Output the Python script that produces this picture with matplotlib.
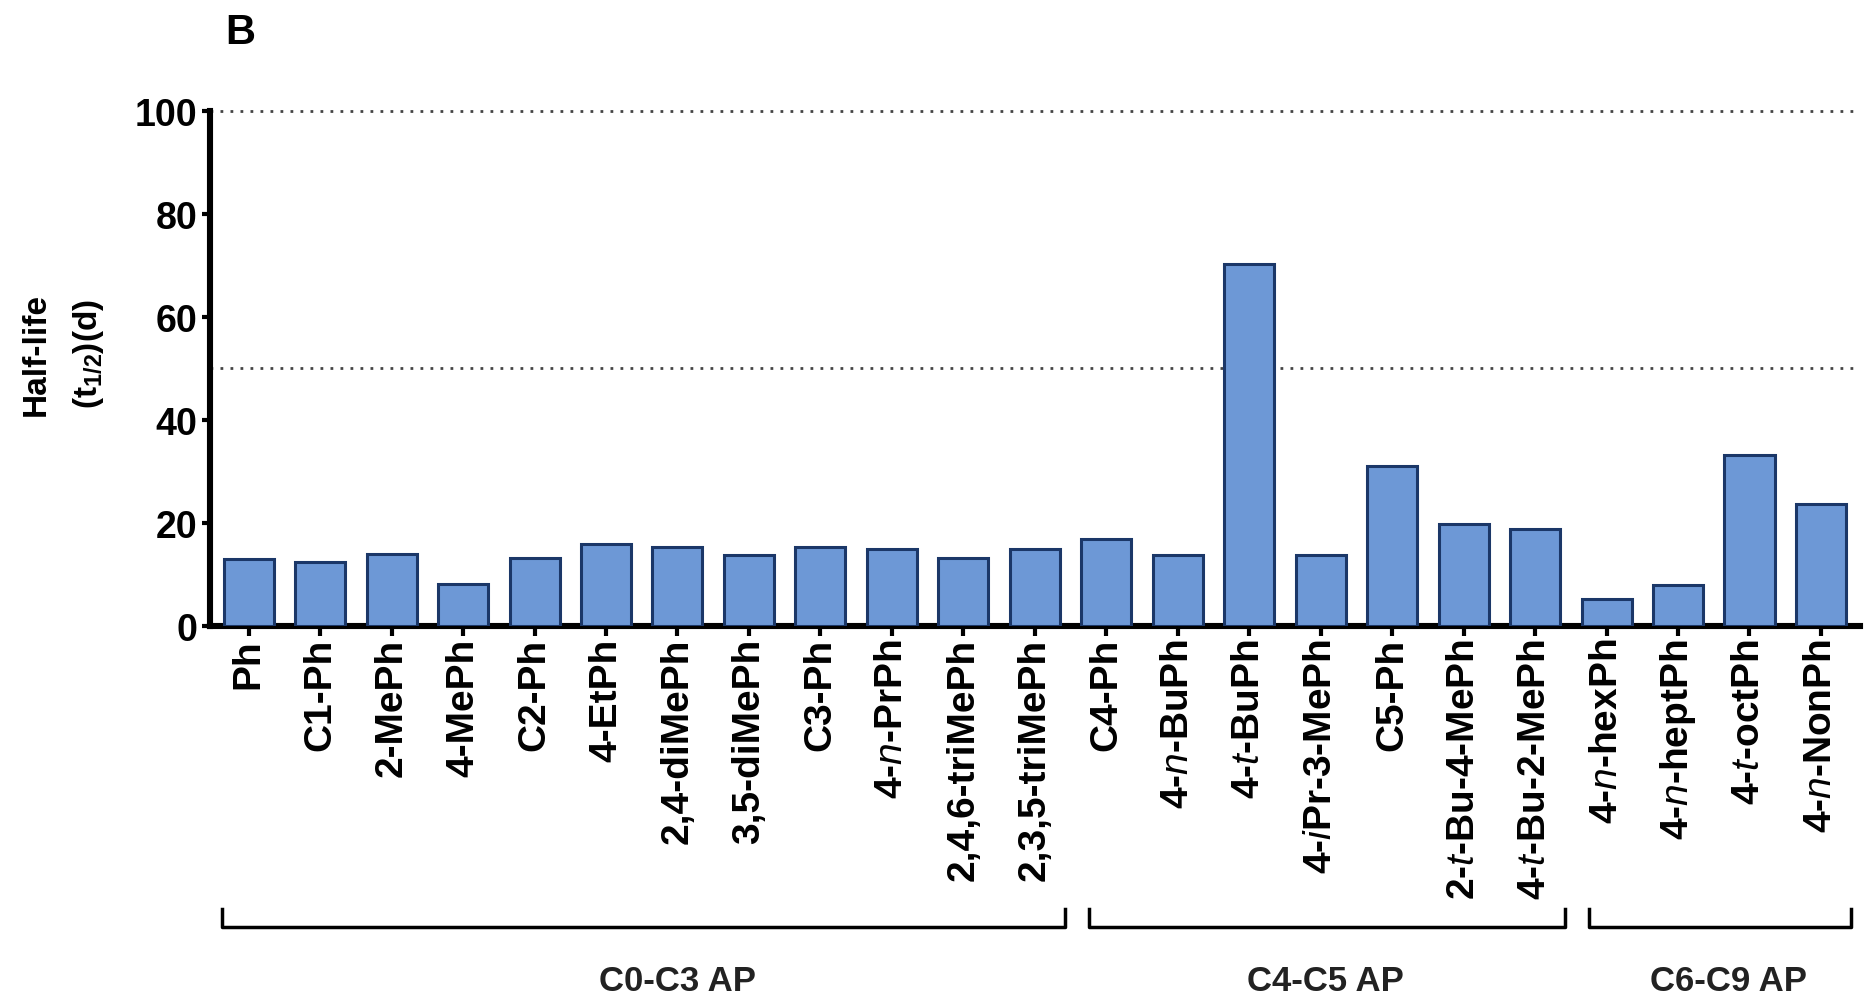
import numpy as np
import matplotlib.pyplot as plt

plt.rcParams['font.family'] = ['Liberation Sans', 'DejaVu Sans']
plt.rcParams['mathtext.fontset'] = 'custom'
plt.rcParams['mathtext.rm'] = 'Liberation Sans:bold'
plt.rcParams['mathtext.it'] = 'Liberation Sans:italic'
plt.rcParams['mathtext.bf'] = 'Liberation Sans:bold'

# compounds and half-lives (days)
compounds = ["Ph", "C1-Ph", "2-MePh", "4-MePh", "C2-Ph", "4-EtPh",
             "2,4-diMePh", "3,5-diMePh", "C3-Ph", r"4-$\it{n}$-PrPh",
             "2,4,6-triMePh", "2,3,5-triMePh",
             "C4-Ph", r"4-$\it{n}$-BuPh", r"4-$\it{t}$-BuPh", r"4-$\it{i}$Pr-3-MePh",
             "C5-Ph", r"2-$\it{t}$-Bu-4-MePh", r"4-$\it{t}$-Bu-2-MePh",
             r"4-$\it{n}$-hexPh", r"4-$\it{n}$-heptPh", r"4-$\it{t}$-octPh",
             r"4-$\it{n}$-NonPh"]
half_life = [13.0, 12.3, 13.9, 8.1, 13.2, 15.8, 15.3, 13.7, 15.3, 14.8, 13.2, 14.8,
             16.9, 13.7, 70.3, 13.7, 31.1, 19.7, 18.8,
             5.1, 7.9, 33.2, 23.7]

groups = ["C0-C3 AP", "C4-C5 AP", "C6-C9 AP"]
group_first = [0, 12, 19]
group_last = [11, 18, 22]
ref_lines = [50, 100]

fig = plt.figure(figsize=(18.64, 10.03), dpi=100)
ax = fig.add_axes([0.1127, 0.3753, 0.8853, 0.513])

x = np.arange(len(compounds))
ax.bar(x, half_life, width=0.7, color='#6d98d6', edgecolor='#1b3768',
       linewidth=2.2, zorder=3)

for r in ref_lines:
    ax.axhline(r, color='#444444', lw=2.0, ls=(0, (1, 2.6)), zorder=1,
               clip_on=False)

ax.set_xlim(-0.54, 22.55)
ax.set_ylim(0, 100)
ax.set_yticks([0, 20, 40, 60, 80, 100])
ax.set_xticks(x)
ax.set_xticklabels(compounds, rotation=90, fontsize=28, fontweight='bold')
for lab in ax.get_yticklabels():
    lab.set_fontsize(27)
    lab.set_fontweight('bold')

for s in ['top', 'right']:
    ax.spines[s].set_visible(False)
for s in ['left', 'bottom']:
    ax.spines[s].set_linewidth(4.4)
ax.tick_params(axis='x', length=7, width=3, pad=2)
ax.tick_params(axis='y', length=6, width=3, pad=3)

# group brackets below the tick labels
tr = ax.get_xaxis_transform()
label_pos = [6.0, 15.07, 20.7]
left_pad = [0.38, 0.24, 0.24]
for g, a, b, lp, lx in zip(groups, group_first, group_last, left_pad, label_pos):
    left = a - lp
    right = b + 0.42
    ax.plot([left, left, right, right], [-0.55, -0.585, -0.585, -0.55],
            color='black', lw=2.5, transform=tr, clip_on=False)
    ax.text(lx, -0.689, g, transform=tr, ha='center', va='center',
            fontsize=25, fontweight='bold', color='#222222')

fig.text(0.034, 0.647, "Half-life\n(t$_{1/2}$)(d)", rotation=90,
         ha='center', va='center', fontsize=24, fontweight='bold',
         multialignment='center', linespacing=1.75)
fig.text(0.121, 0.967, "B", ha='left', va='center', fontsize=30,
         fontweight='bold')

fig.savefig("out.png", dpi=100)
